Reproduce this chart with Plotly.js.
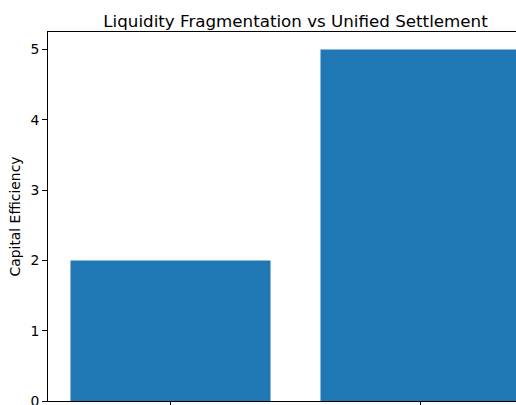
<!DOCTYPE html>
<html>
<head>
<meta charset="utf-8">
<script src="https://cdn.plot.ly/plotly-3.0.1.min.js"></script>
<style>
html,body{margin:0;padding:0;overflow:hidden;background:#fff;}
#chart{width:560px;height:440px;}
</style>
</head>
<body>
<div id="chart"></div>
<script>
const categories = ["Fragmented Liquidity", "Unified Settlement"];
const values = [2, 5];
const yTicks = [0, 1, 2, 3, 4, 5];

const trace = {
  type: "bar",
  x: [0, 1],
  y: values,
  width: 0.8,
  marker: {color: "#1f77b4", line: {width: 0}},
  hoverinfo: "skip"
};

const layout = {
  width: 560,
  height: 440,
  margin: {l: 48, r: 17, t: 32, b: 39},
  paper_bgcolor: "#fff",
  plot_bgcolor: "#fff",
  font: {family: "DejaVu Sans", size: 13.9, color: "#000"},
  title: {
    text: "Liquidity Fragmentation vs Unified Settlement",
    font: {family: "DejaVu Sans", size: 16.7, color: "#000"},
    x: 0.5, xref: "paper", xanchor: "center",
    y: 1, yref: "paper", yanchor: "bottom", pad: {b: 5}
  },
  xaxis: {
    range: [-0.49, 1.49],
    tickmode: "array",
    tickvals: [0, 1],
    ticktext: categories,
    ticks: "outside", ticklen: 5, tickwidth: 1, tickcolor: "#000",
    ticklabelstandoff: 12,
    showline: true, linecolor: "#000", linewidth: 1, mirror: true,
    showgrid: false, zeroline: false, fixedrange: true
  },
  yaxis: {
    range: [0, 5.25],
    tickmode: "array",
    tickvals: yTicks,
    ticktext: yTicks.map(String),
    ticks: "outside", ticklen: 5, tickwidth: 1, tickcolor: "#000",
    showline: true, linecolor: "#000", linewidth: 1, mirror: true,
    showgrid: false, zeroline: false, fixedrange: true,
    title: {text: "Capital Efficiency", font: {family: "DejaVu Sans", size: 13.9, color: "#000"}, standoff: 6}
  },
  showlegend: false,
  bargap: 0.2
};

Plotly.newPlot("chart", [trace], layout, {displayModeBar: false, staticPlot: true});
</script>
</body>
</html>
